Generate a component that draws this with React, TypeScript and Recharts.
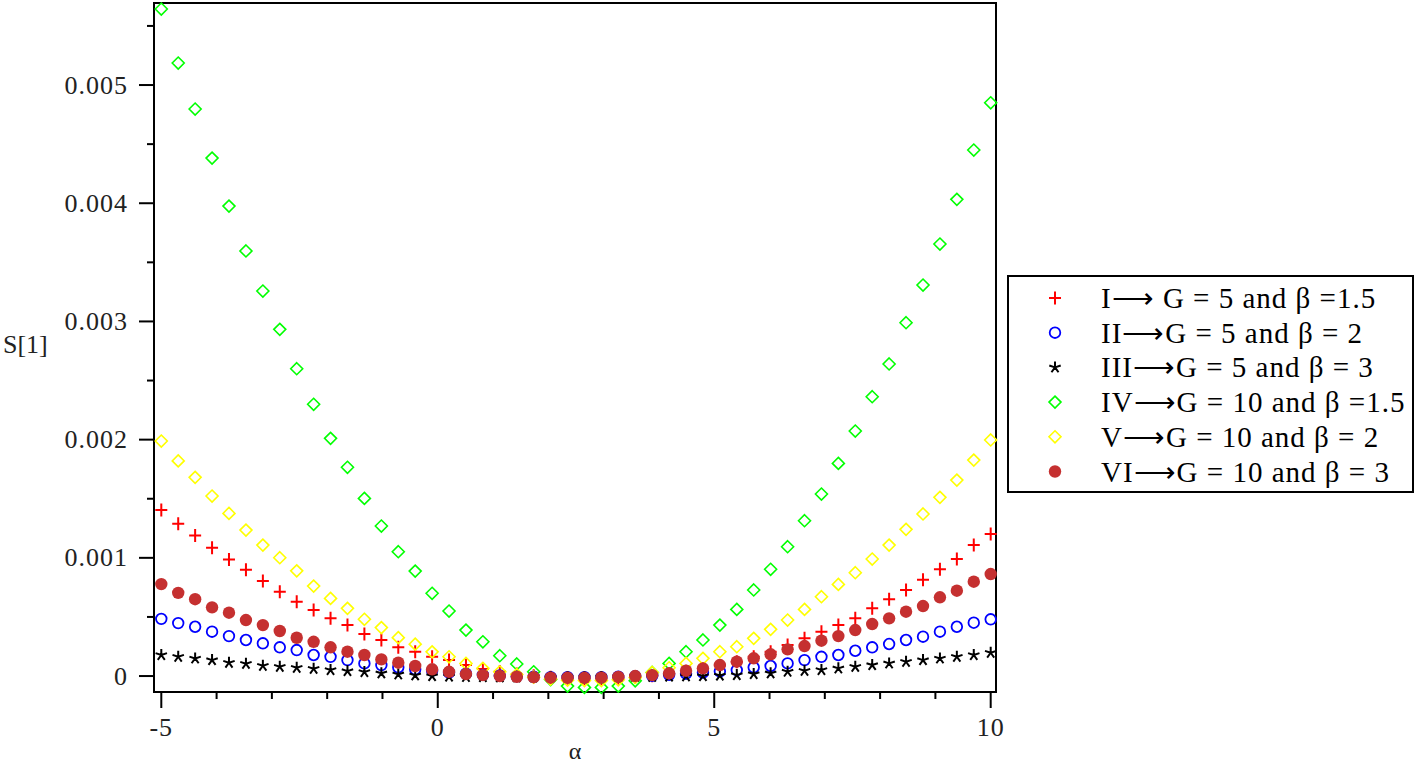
import { ScatterChart, Scatter, XAxis, YAxis, ReferenceArea, Legend } from 'recharts';

// alpha sample points (50 points from -5 to 10)
const alpha = [
  -5, -4.694, -4.388, -4.082, -3.776, -3.469, -3.163, -2.857, -2.551, -2.245,
  -1.939, -1.633, -1.327, -1.02, -0.714, -0.408, -0.102, 0.204, 0.51, 0.816,
  1.122, 1.429, 1.735, 2.041, 2.347, 2.653, 2.959, 3.265, 3.571, 3.878,
  4.184, 4.49, 4.796, 5.102, 5.408, 5.714, 6.02, 6.327, 6.633, 6.939,
  7.245, 7.551, 7.857, 8.163, 8.469, 8.776, 9.082, 9.388, 9.694, 10,
];

// I -> G = 5, beta = 1.5
const s1_I = [
  0.001404, 0.001288, 0.00119, 0.001085, 0.000987, 0.0009, 0.000804, 0.000713, 0.000629, 0.000558,
  0.000488, 0.000431, 0.000355, 0.000305, 0.000243, 0.000206, 0.000163, 0.000135, 0.000093, 0.00006,
  0.000038, 0.000018, 0.000002, -0.00001, -0.000018, -0.000022, -0.000022, -0.000018, -0.00001, 0.000002,
  0.00002, 0.00004, 0.000062, 0.00009, 0.000121, 0.000163, 0.000206, 0.000262, 0.000319, 0.000375,
  0.000431, 0.000488, 0.000573, 0.000649, 0.000728, 0.000815, 0.000903, 0.00099, 0.001108, 0.001201,
];

// II -> G = 5, beta = 2
const s1_II = [
  0.000484, 0.000448, 0.000417, 0.000375, 0.000338, 0.000305, 0.000277, 0.000243, 0.00022, 0.000178,
  0.000163, 0.000135, 0.000107, 0.000093, 0.000074, 0.000057, 0.000045, 0.00003, 0.00002, 0.00001,
  0.000004, -0.000002, -0.000006, -0.000009, -0.00001, -0.00001, -0.000009, -0.000006, -0.000002, 0.000002,
  0.00001, 0.00002, 0.00003, 0.00004, 0.000051, 0.000074, 0.000085, 0.000107, 0.000135, 0.000163,
  0.000178, 0.000214, 0.000243, 0.000271, 0.000305, 0.000333, 0.000375, 0.000417, 0.000451, 0.00048,
];

// III -> G = 5, beta = 3
const s1_III = [
  0.000178, 0.000163, 0.000149, 0.000135, 0.000113, 0.000104, 0.000087, 0.000079, 0.00007, 0.000062,
  0.000051, 0.000042, 0.000034, 0.000023, 0.000014, 0.000006, 0, -0.000004, -0.000007, -0.000009,
  -0.00001, -0.000011, -0.000011, -0.000011, -0.00001, -0.00001, -0.000009, -0.000008, -0.000007, -0.000006,
  -0.000004, -0.000002, 0, 0.000004, 0.000008, 0.000017, 0.000023, 0.000037, 0.000045, 0.000051,
  0.000065, 0.000079, 0.000093, 0.000107, 0.000121, 0.000135, 0.000149, 0.000163, 0.000178, 0.000197,
];

// IV -> G = 10, beta = 1.5
const s1_IV = [
  0.005643, 0.005186, 0.004797, 0.004382, 0.003976, 0.003596, 0.003257, 0.002933, 0.0026, 0.002299,
  0.002011, 0.001766, 0.001503, 0.001269, 0.001052, 0.000888, 0.0007, 0.00055, 0.000389, 0.00029,
  0.000172, 0.000102, 0.000036, -0.00003, -0.000085, -0.000096, -0.000096, -0.000085, -0.00004, 0.00003,
  0.000107, 0.000206, 0.000305, 0.000431, 0.000564, 0.000728, 0.000903, 0.001094, 0.001314, 0.00154,
  0.001799, 0.002073, 0.002363, 0.00264, 0.002989, 0.003308, 0.003655, 0.004033, 0.00445, 0.00485,
];

// V -> G = 10, beta = 2
const s1_V = [
  0.001988, 0.00182, 0.001681, 0.001523, 0.001376, 0.001235, 0.001108, 0.001001, 0.00089, 0.000761,
  0.000657, 0.000573, 0.00048, 0.00041, 0.000325, 0.00027, 0.000205, 0.000163, 0.000107, 0.000065,
  0.000036, 0.000012, -0.00001, -0.000025, -0.000035, -0.000038, -0.000038, -0.000032, -0.000012, 0.00003,
  0.00007, 0.000107, 0.00015, 0.000206, 0.000248, 0.000319, 0.000395, 0.000474, 0.000564, 0.000671,
  0.000775, 0.000874, 0.00099, 0.001108, 0.001241, 0.001371, 0.001512, 0.001658, 0.001827, 0.001997,
];

// VI -> G = 10, beta = 3
const s1_VI = [
  0.000778, 0.000704, 0.00065, 0.000581, 0.000536, 0.000474, 0.000431, 0.000381, 0.000324, 0.00029,
  0.000243, 0.000206, 0.000178, 0.000141, 0.000113, 0.000085, 0.000057, 0.000036, 0.000017, 0.000008,
  0, -0.000006, -0.00001, -0.000014, -0.000015, -0.000015, -0.000013, -0.000008, 0, 0.000008,
  0.000023, 0.000045, 0.000065, 0.000093, 0.000121, 0.00015, 0.000184, 0.000226, 0.000254, 0.000299,
  0.000338, 0.000389, 0.00044, 0.000488, 0.000544, 0.000592, 0.000666, 0.000722, 0.000798, 0.000863,
];

const xTicks = [-5, -4, -3, -2, -1, 0, 1, 2, 3, 4, 5, 6, 7, 8, 9, 10];
const xMajor = [-5, 0, 5, 10];
const yTicks = [0, 0.0005, 0.001, 0.0015, 0.002, 0.0025, 0.003, 0.0035, 0.004, 0.0045, 0.005, 0.0055];

const X_DOMAIN: [number, number] = [-5.132, 10.096];
const Y_DOMAIN: [number, number] = [-0.000135, 0.005694];

const FONT = '"Liberation Serif", "Times New Roman", serif';

const toPoints = (ys: number[]) => alpha.map((x, i) => ({ x, y: ys[i] }));

// marker shapes
const Plus = ({ cx, cy }: any) => (
  <path d={`M${cx - 6},${cy}H${cx + 6}M${cx},${cy - 6.5}V${cy + 6.5}`} stroke="#ff0000" strokeWidth={2} fill="none" />
);
const Ring = ({ cx, cy }: any) => (
  <circle cx={cx} cy={cy} r={5.3} fill="none" stroke="#0000ff" strokeWidth={1.8} />
);
const Star = ({ cx, cy }: any) => {
  const arms = [-90, -18, 54, 126, 198].map((a) => {
    const r = (a * Math.PI) / 180;
    return `M${cx},${cy}L${cx + 6 * Math.cos(r)},${cy + 6 * Math.sin(r)}`;
  });
  return <path d={arms.join('')} stroke="#000" strokeWidth={2} fill="none" />;
};
const diamond = (color: string) => ({ cx, cy }: any) => (
  <path
    d={`M${cx},${cy - 6}L${cx + 6},${cy}L${cx},${cy + 6}L${cx - 6},${cy}Z`}
    fill="none"
    stroke={color}
    strokeWidth={1.6}
  />
);
const GreenDiamond = diamond('#00ff00');
const YellowDiamond = diamond('#ffff00');
const Dot = ({ cx, cy }: any) => <circle cx={cx} cy={cy} r={6.2} fill="#c53030" />;

const series = [
  { name: 'I\u27f6 G = 5 and \u03b2 =1.5', data: s1_I, shape: Plus },
  { name: 'II\u27f6G = 5 and \u03b2 = 2', data: s1_II, shape: Ring },
  { name: 'III\u27f6G = 5 and \u03b2 = 3', data: s1_III, shape: Star },
  { name: 'IV\u27f6G = 10 and \u03b2 =1.5', data: s1_IV, shape: GreenDiamond },
  { name: 'V\u27f6G = 10 and \u03b2 = 2', data: s1_V, shape: YellowDiamond },
  { name: 'VI\u27f6G = 10 and \u03b2 = 3', data: s1_VI, shape: Dot },
];

const XTick = (props: any) => {
  const { x, y, payload } = props;
  const major = xMajor.includes(payload.value);
  return (
    <g>
      <line x1={x} x2={x} y1={y} y2={y + (major ? 16 : 7)} stroke="#000" strokeWidth={2} />
      {major && (
        <text x={x} y={y + 35} textAnchor="middle" dominantBaseline="central" fontFamily={FONT} fontSize={26} fill="#222" letterSpacing={1}>
          {payload.value < 0 ? `-${Math.abs(payload.value)}` : payload.value}
        </text>
      )}
    </g>
  );
};

const YTick = (props: any) => {
  const { x, y, payload } = props;
  const v = payload.value as number;
  const major = Math.abs(v * 1000 - Math.round(v * 1000)) < 1e-6;
  return (
    <g>
      <line x1={x - (major ? 15 : 7)} x2={x} y1={y} y2={y} stroke="#000" strokeWidth={2} />
      {major && (
        <text x={x - 26} y={y} textAnchor="end" dominantBaseline="central" fontFamily={FONT} fontSize={26} fill="#222" letterSpacing={1}>
          {v === 0 ? '0' : v.toFixed(3)}
        </text>
      )}
    </g>
  );
};

const LegendBox = () => (
  <svg width={408} height={219} style={{ display: 'block' }}>
    <rect x={1} y={1} width={405} height={216} fill="#fff" stroke="#000" strokeWidth={2} />
    {series.map((s, i) => {
      const cy = 23 + i * 34.7;
      const Shape = s.shape;
      return (
        <g key={s.name}>
          <Shape cx={48} cy={cy} />
          <text x={94} y={cy} dominantBaseline="central" fontFamily={FONT} fontSize={29} letterSpacing={1} fill="#000">
            {s.name}
          </text>
        </g>
      );
    })}
  </svg>
);

export default function App() {
  return (
    <div style={{ position: 'absolute', left: 0, top: 0, width: 1418, height: 767, background: '#fff' }}>
      <ScatterChart width={1418} height={767} margin={{ top: 3, right: 422, bottom: 0, left: 0 }}>
        <XAxis
          type="number"
          dataKey="x"
          domain={X_DOMAIN}
          ticks={xTicks}
          interval={0}
          tickSize={0}
          tickMargin={0}
          tickLine={false}
          tick={(p: any) => <XTick {...p} />}
          height={75}
          axisLine={{ stroke: '#000', strokeWidth: 2 }}
          label={{ value: '\u03b1', position: 'insideBottom', offset: 8, fontFamily: FONT, fontSize: 24, fill: '#222' }}
        />
        <YAxis
          type="number"
          dataKey="y"
          domain={Y_DOMAIN}
          ticks={yTicks}
          interval={0}
          tickSize={0}
          tickMargin={0}
          tickLine={false}
          tick={(p: any) => <YTick {...p} />}
          width={154}
          axisLine={{ stroke: '#000', strokeWidth: 2 }}
          label={{ value: 'S[1]', position: 'insideLeft', offset: 3, dy: -4, fontFamily: FONT, fontSize: 26, fill: '#222' }}
        />
        <ReferenceArea
          x1={X_DOMAIN[0]}
          x2={X_DOMAIN[1]}
          y1={Y_DOMAIN[0]}
          y2={Y_DOMAIN[1]}
          fill="none"
          stroke="#000"
          strokeWidth={2}
          fillOpacity={0}
        />
        {series.map((s) => (
          <Scatter key={s.name} name={s.name} data={toPoints(s.data)} shape={s.shape} isAnimationActive={false} />
        ))}
        <Legend
          layout="vertical"
          align="center"
          verticalAlign="middle"
          content={() => <LegendBox />}
          wrapperStyle={{ position: 'absolute', left: 1007, top: 275, width: 408, height: 219 }}
        />
      </ScatterChart>
    </div>
  );
}
